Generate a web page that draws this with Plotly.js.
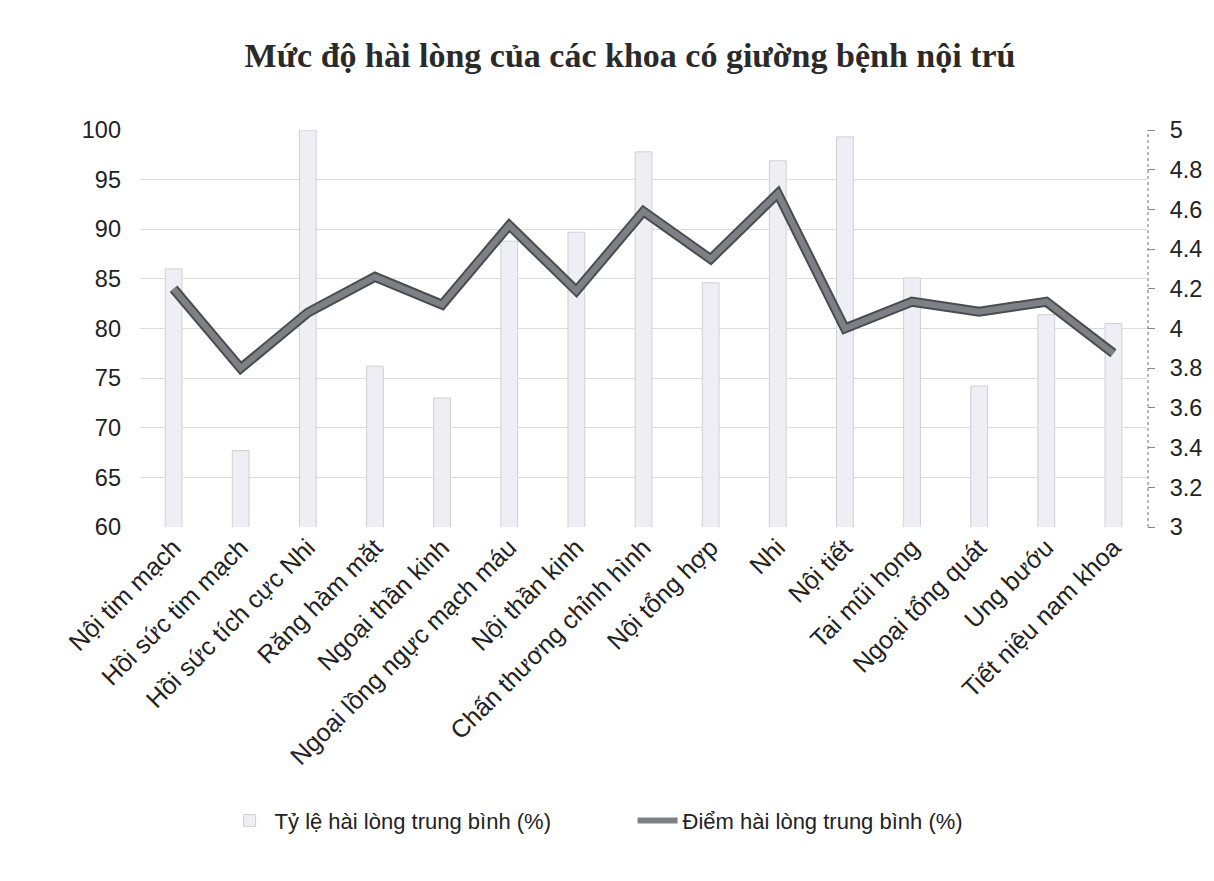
<!DOCTYPE html>
<html>
<head>
<meta charset="utf-8">
<script src="https://cdn.plot.ly/plotly-3.0.1.min.js"></script>
<style>body{margin:0;background:#fff}#chart{width:1214px;height:881px}</style>
</head>
<body>
<div id="chart"></div>
<script>
const categories = ["Nội tim mạch","Hồi sức tim mạch","Hồi sức tích cực Nhi","Răng hàm mặt","Ngoại thần kinh","Ngoại lồng ngực mạch máu","Nội thần kinh","Chấn thương chỉnh hình","Nội tổng hợp","Nhi","Nội tiết","Tai mũi họng","Ngoại tổng quát","Ung bướu","Tiết niệu nam khoa"];
const rateValues = [86, 67.7, 100, 76.2, 73, 88.8, 89.7, 97.8, 84.6, 96.9, 99.3, 85.1, 74.2, 81.4, 80.5];
const scoreValues = [4.20, 3.80, 4.08, 4.26, 4.12, 4.52, 4.19, 4.59, 4.35, 4.68, 4.00, 4.135, 4.085, 4.135, 3.875];
const leftTicks = [60,65,70,75,80,85,90,95,100];
const rightTicks = [3,3.2,3.4,3.6,3.8,4,4.2,4.4,4.6,4.8,5];

const traces = [
  {type:'bar', x:categories, y:rateValues, base:0, name:'Tỷ lệ hài lòng trung bình (%)',
   marker:{color:'#eeeef4', line:{color:'#cfcfd6', width:1}}, yaxis:'y'},
  {type:'scatter', mode:'lines', x:categories, y:scoreValues, yaxis:'y2', showlegend:false, hoverinfo:'skip',
   line:{color:'#4a4c50', width:10}},
  {type:'scatter', mode:'lines', x:categories, y:scoreValues, yaxis:'y2', name:'Điểm hài lòng trung bình (%)',
   line:{color:'#7e8085', width:6}}
];

const tickFont = {family:'Liberation Sans, Arial, sans-serif', size:23.5, color:'#222'};
const layout = {
  width:1214, height:881,
  paper_bgcolor:'#fff', plot_bgcolor:'#fff',
  margin:{l:140, r:67, t:130, b:354},
  title:{text:'<b>Mức độ hài lòng của các khoa có giường bệnh nội trú</b>', x:0.519, xanchor:'center', y:0.937, yanchor:'middle',
         font:{family:'Liberation Serif, Times New Roman, serif', size:34, color:'#2a2a2a'}},
  bargap:0.75,
  xaxis:{tickangle:-45, tickfont:{family:'Liberation Sans, Arial, sans-serif', size:25, color:'#222'},
         showgrid:false, zeroline:false, showline:false, ticks:''},
  yaxis:{range:[60,100], tickvals:leftTicks, ticktext:leftTicks.map(String), showgrid:true, gridcolor:'#dcdcdc', gridwidth:1,
         zeroline:false, showline:false, ticks:'', ticklabelstandoff:18, tickfont:tickFont},
  yaxis2:{overlaying:'y', side:'right', range:[3,5], tickvals:rightTicks, ticktext:rightTicks.map(String),
          showgrid:false, zeroline:false, showline:false, ticks:'outside', ticklen:7, tickcolor:'#888', ticklabelstandoff:10,
          tickfont:tickFont},
  shapes:[{type:'line', xref:'paper', yref:'paper', x0:1.001, x1:1.001, y0:0, y1:1, line:{color:'#888', width:1.2, dash:'dot'}}],
  legend:{orientation:'h', x:0.084, xanchor:'left', y:-0.74, yanchor:'middle', entrywidth:353, entrywidthmode:'pixels',
          font:{family:'Liberation Sans, Arial, sans-serif', size:22, color:'#222'}, itemwidth:40},
  showlegend:true
};
Plotly.newPlot('chart', traces, layout, {displayModeBar:false, staticPlot:true});
</script>
</body>
</html>
